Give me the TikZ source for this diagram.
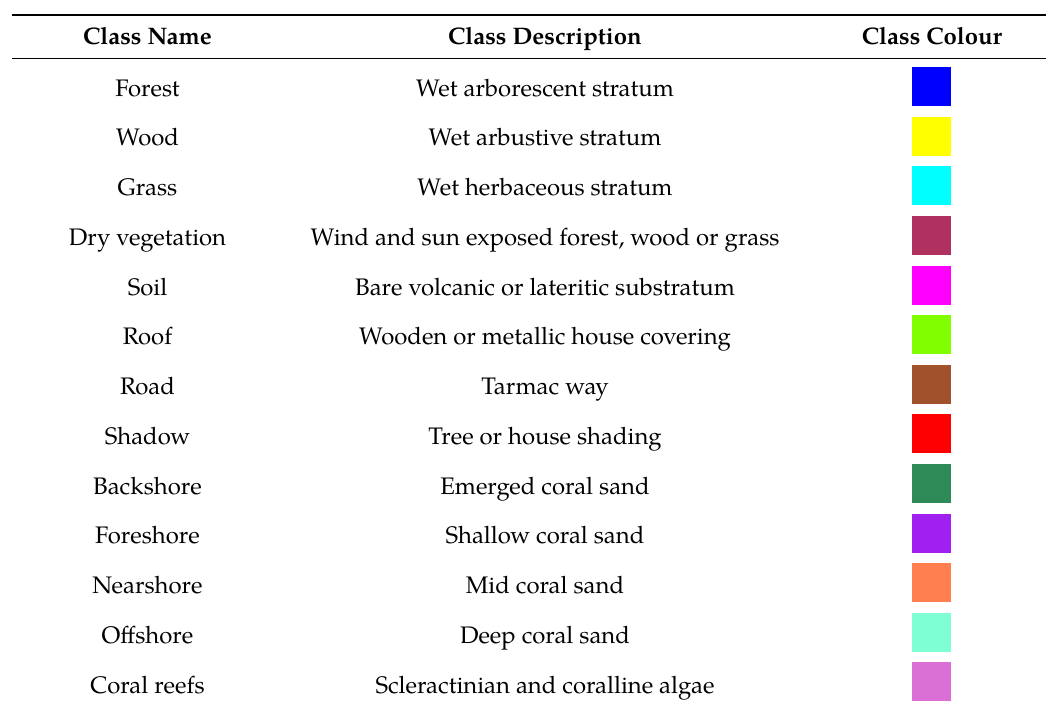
\documentclass[tikz,border=0pt]{standalone}
\usepackage{fontspec}
\setmainfont{TeX Gyre Pagella}
\definecolor{cForest}{RGB}{0,0,255}
\definecolor{cWood}{RGB}{255,255,0}
\definecolor{cGrass}{RGB}{0,255,255}
\definecolor{cDry}{RGB}{176,48,96}
\definecolor{cSoil}{RGB}{255,0,255}
\definecolor{cRoof}{RGB}{127,255,0}
\definecolor{cRoad}{RGB}{160,82,45}
\definecolor{cShadow}{RGB}{255,0,0}
\definecolor{cBack}{RGB}{46,139,87}
\definecolor{cFore}{RGB}{160,32,240}
\definecolor{cNear}{RGB}{255,127,80}
\definecolor{cOff}{RGB}{127,255,212}
\definecolor{cCoral}{RGB}{218,112,214}
\tikzset{
  cell/.style={anchor=base, inner sep=0pt, font=\fontsize{23.9}{28}\selectfont},
  head/.style={cell, font=\fontsize{23.9}{28}\selectfont\bfseries},
  swatch/.style={fill=#1, draw=none, minimum width=39pt, minimum height=39pt, inner sep=0pt, anchor=north},
  toprule/.style={line width=1.5pt},
  midrule/.style={line width=1pt}
}
\begin{document}
\begin{tikzpicture}[x=1pt,y=-1pt]
\useasboundingbox (0,0) rectangle (1046,709);
\coordinate (tl) at (12,15);
\coordinate (tr) at (1046,15);
\coordinate (ml) at (12,58.5);
\coordinate (mr) at (1046,58.5);
\draw[toprule] (tl) -- (tr);
\draw[midrule] (ml) -- (mr);
\node[head] (h1) at (147.5,45) {Class Name};
\node[head] (h2) at (545,45) {Class Description};
\node[head] (h3) at (932,45) {Class Colour};
\foreach \i/\n/\d/\c in {
  0/Forest/Wet arborescent stratum/cForest,
  1/Wood/Wet arbustive stratum/cWood,
  2/Grass/Wet herbaceous stratum/cGrass,
  3/Dry vegetation/{Wind and sun exposed forest, wood or grass}/cDry,
  4/Soil/Bare volcanic or lateritic substratum/cSoil,
  5/Roof/Wooden or metallic house covering/cRoof,
  6/Road/Tarmac way/cRoad,
  7/Shadow/Tree or house shading/cShadow,
  8/Backshore/Emerged coral sand/cBack,
  9/Foreshore/Shallow coral sand/cFore,
  10/Nearshore/Mid coral sand/cNear,
  11/Offshore/Deep coral sand/cOff,
  12/Coral reefs/Scleractinian and coralline algae/cCoral}{
  \node[cell] (name\i) at (147.5,96+49.75*\i) {\n};
  \node[cell] (desc\i) at (545,96+49.75*\i) {\d};
  \node[swatch=\c] (sw\i) at (931.5,67+49.6*\i) {};
}
\end{tikzpicture}
\end{document}
